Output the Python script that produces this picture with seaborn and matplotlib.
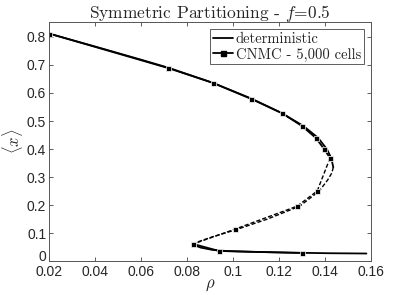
import matplotlib
matplotlib.use("Agg")
import matplotlib.pyplot as plt
import seaborn as sns
import pandas as pd
from matplotlib.lines import Line2D

# Deterministic bifurcation curve
det_stable_hi_rho = [0.020, 0.040, 0.060, 0.072, 0.091, 0.108, 0.121, 0.1305, 0.1370, 0.1408, 0.1427, 0.1436]
det_stable_hi_x = [0.812, 0.766, 0.719, 0.690, 0.637, 0.580, 0.529, 0.483, 0.440, 0.400, 0.368, 0.335]
det_unstable_rho = [0.1436, 0.1430, 0.1412, 0.1375, 0.1290, 0.1150, 0.1013, 0.0905, 0.0835, 0.0828]
det_unstable_x = [0.335, 0.315, 0.290, 0.250, 0.196, 0.150, 0.112, 0.085, 0.065, 0.058]
det_stable_lo_rho = [0.0828, 0.0860, 0.0910, 0.0970, 0.1080, 0.1250, 0.1420, 0.1580]
det_stable_lo_x = [0.058, 0.048, 0.040, 0.036, 0.033, 0.030, 0.028, 0.027]

# CNMC - 5,000 cells
cnmc_hi_rho = [0.0202, 0.0718, 0.0913, 0.1079, 0.1213, 0.1300, 0.1361, 0.1396, 0.1422]
cnmc_hi_x = [0.812, 0.689, 0.636, 0.579, 0.528, 0.482, 0.439, 0.400, 0.368]
cnmc_un_rho = [0.1422, 0.1366, 0.1279, 0.1009, 0.0827]
cnmc_un_x = [0.368, 0.250, 0.196, 0.114, 0.061]
cnmc_lo_rho = [0.0827, 0.0940, 0.1300]
cnmc_lo_x = [0.061, 0.036, 0.029]

xticks = [0.02, 0.04, 0.06, 0.08, 0.10, 0.12, 0.14, 0.16]
xticklabels = ["0.02", "0.04", "0.06", "0.08", "0.1", "0.12", "0.14", "0.16"]
yticks = [0, 0.1, 0.2, 0.3, 0.4, 0.5, 0.6, 0.7, 0.8]
yticklabels = ["0", "0.1", "0.2", "0.3", "0.4", "0.5", "0.6", "0.7", "0.8"]

title = "Symmetric Partitioning - $f$=0.5"
legend_labels = ["deterministic", "CNMC - 5,000 cells"]

sns.set_style("ticks")
plt.rcParams["font.family"] = ["Liberation Sans", "DejaVu Sans"]
plt.rcParams["mathtext.fontset"] = "cm"
plt.rcParams["axes.unicode_minus"] = False

fig = plt.figure(figsize=(4.15, 2.95), dpi=100)
ax = fig.add_axes([0.118, 0.115, 0.776, 0.810])

dash = (3, 1.5)
segs = [
    (det_stable_hi_rho, det_stable_hi_x, "-", None),
    (det_unstable_rho, det_unstable_x, "--", None),
    (det_stable_lo_rho, det_stable_lo_x, "-", None),
    (cnmc_hi_rho, cnmc_hi_x, "-", "s"),
    (cnmc_un_rho, cnmc_un_x, "--", "s"),
    (cnmc_lo_rho, cnmc_lo_x, "-", "s"),
]
for r, x, ls, mk in segs:
    df = pd.DataFrame({"rho": r, "x": x})
    line_kw = dict(color="black", linewidth=1.3, sort=False, estimator=None, ax=ax)
    if mk:
        line_kw.update(marker="s", markersize=3.6, markeredgewidth=0.5)
    sns.lineplot(data=df, x="rho", y="x", **line_kw)
    l = ax.lines[-1]
    if ls == "--":
        l.set_linestyle((0, dash))
        l.set_linewidth(1.0)

ax.set_xlim(0.02, 0.16)
ax.set_ylim(0, 0.853)
ax.set_xticks(xticks)
ax.set_xticklabels(xticklabels, fontsize=10)
ax.set_yticks(yticks)
ax.set_yticklabels(yticklabels, fontsize=10)
ax.get_yticklabels()[0].set_verticalalignment("baseline")
ax.tick_params(direction="in", top=True, right=True, length=3, width=0.6, color="#444444")
ax.tick_params(axis="x", pad=3)
ax.tick_params(axis="y", pad=2)
for s in ax.spines.values():
    s.set_linewidth(0.7)
    s.set_color("#555555")

ax.set_xlabel(r"$\rho$", fontsize=12, labelpad=-1)
ax.set_ylabel(r"$\langle x \rangle$", fontsize=12, labelpad=1)
ax.set_title(title, fontsize=12.5, family="cmr10", pad=3)

handles = [
    Line2D([], [], color="black", linewidth=1.3),
    Line2D([], [], color="black", linewidth=1.3, marker="s", markersize=3.6),
]
leg = ax.legend(handles, legend_labels, loc="upper right", frameon=True, fancybox=False,
                prop={"family": "cmr10", "size": 10.5}, handlelength=1.4, handletextpad=0.15,
                borderpad=0.2, labelspacing=0.1, borderaxespad=0.5)
leg.get_frame().set_edgecolor("#333333")
leg.get_frame().set_linewidth(0.7)

fig.savefig("out.png", dpi=100)
